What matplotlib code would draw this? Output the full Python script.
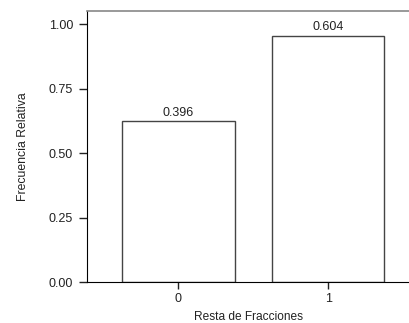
import matplotlib
matplotlib.use('Agg')
import matplotlib.pyplot as plt

# -------------------------
# Data
# -------------------------
categories = ['0', '1']
bar_heights = [0.624, 0.955]
bar_labels = ['0.396', '0.604']
y_ticks = [0.0, 0.25, 0.5, 0.75, 1.0]
y_tick_labels = ['0.00', '0.25', '0.50', '0.75', '1.00']

plt.rcParams['font.family'] = ['Liberation Sans', 'DejaVu Sans']

# -------------------------
# Plot
# -------------------------
fig = plt.figure(figsize=(4.09, 3.23), dpi=100, facecolor='white')
ax = fig.add_axes([87 / 409, (323 - 282.3) / 323, (409 - 87) / 409, (282.3 - 11) / 323])

x = list(range(len(categories)))
ax.bar(x, bar_heights, width=0.75, color='white', edgecolor='#444444', linewidth=1.0)

for xi, h, lab in zip(x, bar_heights, bar_labels):
    ax.text(xi, h + 0.01, lab, ha='center', va='bottom', fontsize=9, color='#222222')

ax.set_xlim(-0.61, 1.54)
ax.set_ylim(0, 1.052)
ax.set_xticks(x)
ax.set_xticklabels(categories)
ax.set_yticks(y_ticks)
ax.set_yticklabels(y_tick_labels)

ax.tick_params(axis='both', labelsize=9, colors='#222222', width=1)
ax.tick_params(axis='y', length=6, pad=4)
ax.tick_params(axis='x', length=5, pad=3)

ax.spines['right'].set_visible(False)
ax.spines['top'].set_color('#888888')
ax.spines['top'].set_linewidth(1.2)
ax.spines['left'].set_color('black')
ax.spines['bottom'].set_color('black')

ax.set_xlabel('Resta de Fracciones', fontsize=8.6, labelpad=4, color='#222222')
ax.set_ylabel('Frecuencia Relativa', fontsize=8.8, labelpad=14, color='#222222')

plt.savefig('out.png', dpi=100, facecolor='white')
plt.close()
